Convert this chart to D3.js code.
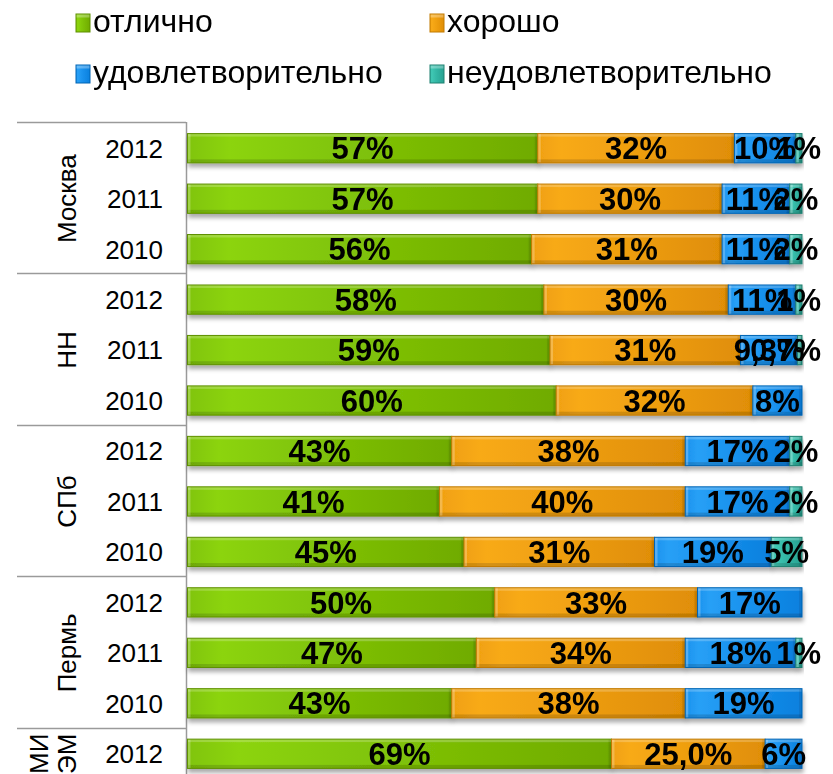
<!DOCTYPE html>
<html>
<head>
<meta charset="utf-8">
<script src="https://cdn.jsdelivr.net/npm/d3@7"></script>
<style>
  html, body { margin: 0; padding: 0; background: #fff; }
  svg { display: block; font-family: "Liberation Sans", Arial, sans-serif; }
</style>
</head>
<body>
<svg id="chart" width="833" height="774"></svg>
<script>
// Row categories (top to bottom): city group and year
const groups = ["Москва","Москва","Москва","НН","НН","НН","СПб","СПб","СПб","Пермь","Пермь","Пермь","МИЭМ"];
const years  = ["2012","2011","2010","2012","2011","2010","2012","2011","2010","2012","2011","2010","2012"];

// Share of answers per row, percent
const excellent      = [57, 57, 56, 58, 59,  60, 43, 41, 45, 50, 47, 43, 69];
const good           = [32, 30, 31, 30, 31,  32, 38, 40, 31, 33, 34, 38, 25];
const satisfactory   = [10, 11, 11, 11, 9.3,  8, 17, 17, 19, 17, 18, 19,  6];
const unsatisfactory = [ 1,  2,  2,  1, 0.7,  0,  2,  2,  5,  0,  1,  0,  0];

const seriesNames = ["отлично", "хорошо", "удовлетворительно", "неудовлетворительно"];
// Cells printed with one decimal place: [row, series]
const decimalCells = [[4, 2], [4, 3], [12, 1]];

const seriesValues = [excellent, good, satisfactory, unsatisfactory];
const keys = ["s0", "s1", "s2", "s3"];
const rows = years.map((y, i) => ({
  id: i, group: groups[i], year: y,
  s0: excellent[i], s1: good[i], s2: satisfactory[i], s3: unsatisfactory[i]
}));

const palette = [
  { light: "#8cd40c", mid: "#80c408", dark: "#70ab00", edge: "#5e8f00" },
  { light: "#f8aa18", mid: "#f0a010", dark: "#e08e06", edge: "#c27a00" },
  { light: "#28a0f6", mid: "#1a92ee", dark: "#0a80de", edge: "#0064b4" },
  { light: "#40c8b4", mid: "#34b8a6", dark: "#28a292", edge: "#1e8071" }
];

const svg = d3.select("#chart");
const defs = svg.append("defs");

palette.forEach((c, i) => {
  const g = defs.append("linearGradient").attr("id", "grad" + i)
    .attr("x1", "0").attr("x2", "1").attr("y1", "0").attr("y2", "0");
  g.append("stop").attr("offset", "0").attr("stop-color", c.mid);
  g.append("stop").attr("offset", "0.12").attr("stop-color", c.light);
  g.append("stop").attr("offset", "0.45").attr("stop-color", c.mid);
  g.append("stop").attr("offset", "1").attr("stop-color", c.dark);
});
const shadow = defs.append("filter").attr("id", "shadow")
  .attr("x", "-5%").attr("y", "-30%").attr("width", "110%").attr("height", "180%");
shadow.append("feDropShadow").attr("dx", 1).attr("dy", 4).attr("stdDeviation", 2)
  .attr("flood-color", "#000").attr("flood-opacity", 0.33);

// Scales
const x = d3.scaleLinear().domain([0, 100]).range([187.5, 802]);
const y = d3.scaleBand().domain(rows.map(d => d.id)).range([123, 779])
  .paddingInner(0.42).paddingOuter(0.21);
const step = y.step();
const bandTop = i => y(i) - step * y.paddingInner() / 2;
const chartRight = 821; // labels are kept inside the chart area

// Category axis: separators between city groups
const axisColor = "#9a9a9a";
const groupStarts = [0, 3, 6, 9, 12];
svg.append("g").selectAll("line").data(groupStarts).join("line")
  .attr("x1", 17).attr("x2", 186)
  .attr("y1", d => Math.round(bandTop(d)) - 0.5).attr("y2", d => Math.round(bandTop(d)) - 0.5)
  .attr("stroke", axisColor).attr("stroke-width", 1.5);
svg.append("line")
  .attr("x1", 186.5).attr("x2", 186.5).attr("y1", Math.round(bandTop(0)) - 1).attr("y2", 774)
  .attr("stroke", axisColor).attr("stroke-width", 1.5);

// Year labels
svg.append("g").selectAll("text").data(rows).join("text")
  .attr("x", 163).attr("y", d => y(d.id) + y.bandwidth() / 2)
  .attr("dy", "0.36em").attr("text-anchor", "end")
  .attr("font-size", 26).attr("fill", "#000")
  .text(d => d.year);

// City labels, rotated, centred on their group
const cityLines = { "МИЭМ": ["МИ", "ЭМ"] };
const cities = Array.from(d3.group(rows, d => d.group), ([k, v]) => ({
  name: k,
  y0: bandTop(v[0].id),
  y1: bandTop(v[v.length - 1].id) + step
}));
cities.forEach(c => {
  const cy = (c.y0 + c.y1) / 2;
  const lines = cityLines[c.name] || [c.name];
  lines.forEach((ln, j) => {
    const bx = 76 - (lines.length - 1 - j) * 28;
    svg.append("text")
      .attr("transform", `translate(${bx},${cy}) rotate(-90)`)
      .attr("text-anchor", "middle")
      .attr("font-size", 26).attr("fill", "#000")
      .text(ln);
  });
});

// Stacked bars
const stacked = d3.stack().keys(keys)(rows);
const barLayer = svg.append("g");
stacked.forEach((layer, si) => {
  const c = palette[si];
  const segs = layer.map((s, ri) => ({ x0: s[0], x1: s[1], row: ri, v: seriesValues[si][ri] }))
    .filter(d => d.v > 0);
  const g = barLayer.append("g").attr("filter", "url(#shadow)");
  segs.forEach(d => {
    const x0 = x(d.x0), w = x(d.x1) - x(d.x0);
    const y0 = y(d.row), h = y.bandwidth();
    const seg = g.append("g");
    seg.append("rect").attr("x", x0).attr("y", y0).attr("width", w).attr("height", h)
      .attr("fill", `url(#grad${si})`);
    // bevel highlights and shades
    seg.append("rect").attr("x", x0).attr("y", y0).attr("width", w).attr("height", 3)
      .attr("fill", "#fff").attr("opacity", 0.22);
    seg.append("rect").attr("x", x0).attr("y", y0 + h - 3.5).attr("width", w).attr("height", 3.5)
      .attr("fill", "#000").attr("opacity", 0.14);
    seg.append("rect").attr("x", x0).attr("y", y0).attr("width", Math.min(3, w)).attr("height", h)
      .attr("fill", "#fff").attr("opacity", 0.25);
    seg.append("rect").attr("x", x0 + w - Math.min(3, w)).attr("y", y0).attr("width", Math.min(3, w)).attr("height", h)
      .attr("fill", "#000").attr("opacity", 0.08);
    seg.append("rect").attr("x", x0).attr("y", y0).attr("width", w).attr("height", h)
      .attr("fill", "none").attr("stroke", c.edge).attr("stroke-width", 1);
  });
});

// Value labels, centred on their segment and nudged left if they would leave the chart area
const isDecimal = (r, s) => decimalCells.some(([a, b]) => a === r && b === s);
const fmt = (v, r, s) => (isDecimal(r, s) ? d3.format(".1f")(v).replace(".", ",") : d3.format(".0f")(v)) + "%";
const labelLayer = svg.append("g");
stacked.forEach((layer, si) => {
  layer.forEach((s, ri) => {
    const v = seriesValues[si][ri];
    if (!(v > 0)) return;
    const cx = (x(s[0]) + x(s[1])) / 2;
    const t = labelLayer.append("text")
      .attr("x", cx)
      .attr("y", y(ri) + y.bandwidth() / 2)
      .attr("dy", "0.36em").attr("text-anchor", "middle")
      .attr("font-size", 31).attr("font-weight", "bold").attr("fill", "#000")
      .text(fmt(v, ri, si));
    const half = t.node().getComputedTextLength() / 2;
    if (cx + half > chartRight) t.attr("x", chartRight - half);
  });
});

// Legend (2 x 2)
const legendPos = [[76, 32], [430, 32], [76, 83], [430, 83]];
const legend = svg.append("g");
seriesNames.forEach((name, i) => {
  const [lx, ly] = legendPos[i];
  const c = palette[i];
  legend.append("rect").attr("x", lx).attr("y", ly - 18).attr("width", 14).attr("height", 18)
    .attr("fill", `url(#grad${i})`).attr("stroke", c.edge).attr("stroke-width", 1);
  legend.append("rect").attr("x", lx + 0.5).attr("y", ly - 17.5).attr("width", 13).attr("height", 3)
    .attr("fill", "#fff").attr("opacity", 0.3);
  legend.append("text").attr("x", lx + 17).attr("y", ly)
    .attr("font-size", 32).attr("fill", "#000").text(name);
});
</script>
</body>
</html>
